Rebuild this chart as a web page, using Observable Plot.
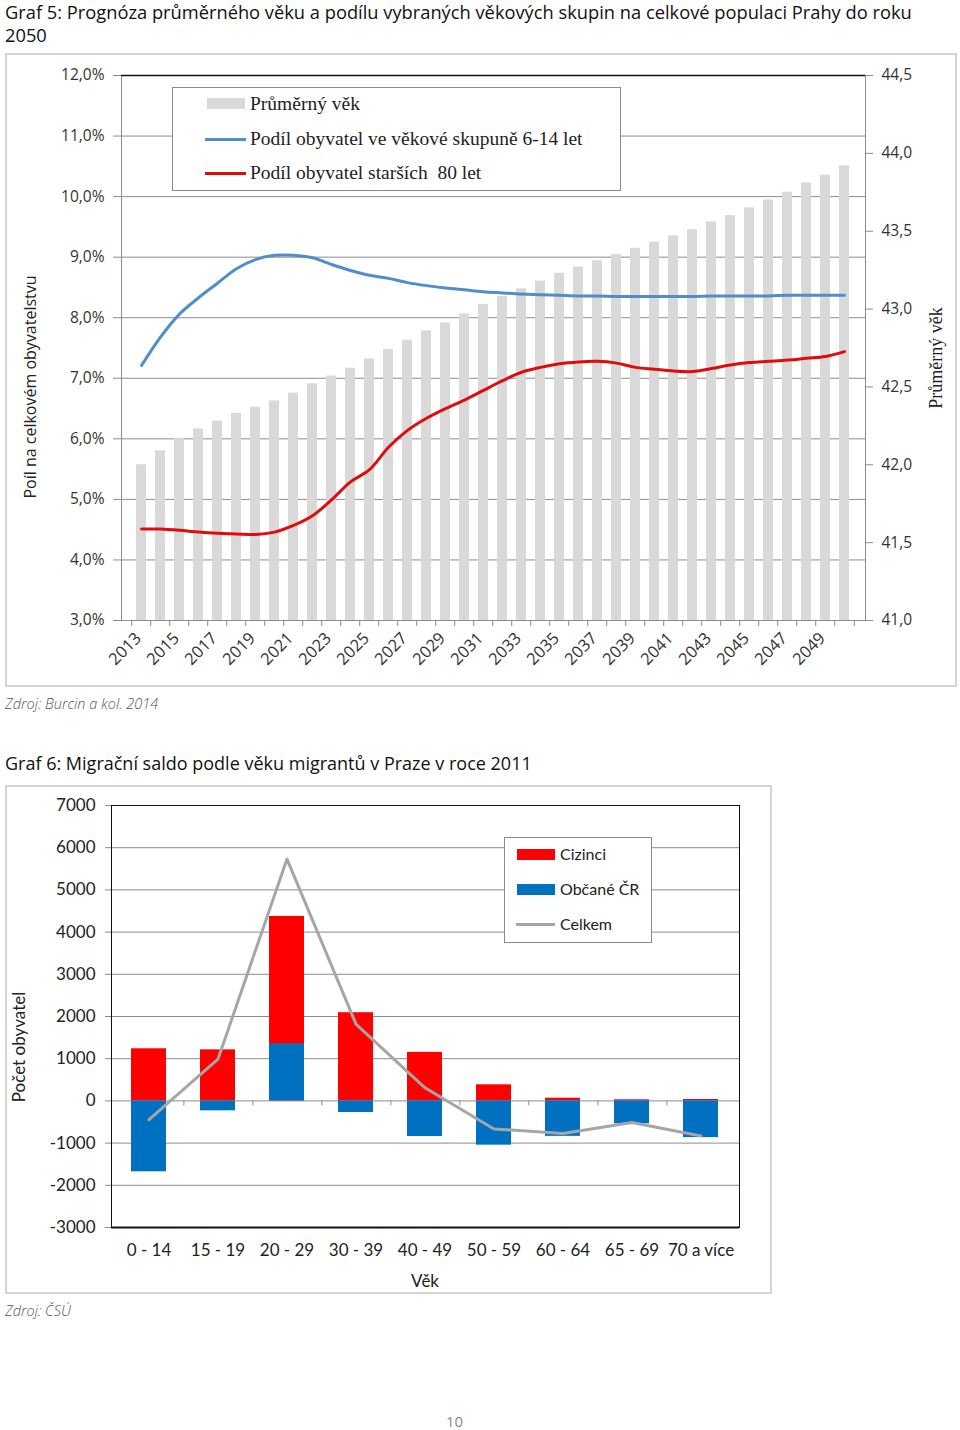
<!DOCTYPE html>
<html>
<head>
<meta charset="utf-8">
<script src="https://cdn.jsdelivr.net/npm/d3@7"></script>
<script src="https://cdn.jsdelivr.net/npm/@observablehq/plot@0.6"></script>
<style>
  html, body { margin: 0; padding: 0; background: #fff; }
  #page { position: relative; width: 960px; height: 1430px; overflow: hidden; font-family: "Open Sans", sans-serif; color: #222; }
  .abs { position: absolute; white-space: nowrap; }
  .frame { position: absolute; box-sizing: border-box; border: 2px solid #d4d4d4; background: #fff; }
  .title { font-family: "Open Sans", sans-serif; font-size: 18px; color: #111; line-height: 23px; }
  .src { font-family: "Open Sans", sans-serif; font-style: italic; font-weight: 300; font-size: 14.5px; color: #555; }
  .legbox { position: absolute; box-sizing: border-box; background: #fff; border: 1px solid #8a8a8a; }
  .rot { transform: translate(-50%, -50%) rotate(-90deg); }
</style>
</head>
<body>
<div id="page"></div>
<script>
// ---------- Graf 5 data ----------
const years = [2013,2014,2015,2016,2017,2018,2019,2020,2021,2022,2023,2024,2025,2026,2027,2028,2029,2030,2031,2032,2033,2034,2035,2036,2037,2038,2039,2040,2041,2042,2043,2044,2045,2046,2047,2048,2049,2050];
const avgAge = [42.00,42.09,42.17,42.23,42.28,42.33,42.37,42.41,42.46,42.52,42.57,42.62,42.68,42.74,42.80,42.86,42.91,42.97,43.03,43.08,43.13,43.18,43.23,43.27,43.31,43.35,43.39,43.43,43.47,43.51,43.56,43.60,43.65,43.70,43.75,43.81,43.86,43.92];
const share6to14 = [7.21,7.68,8.06,8.33,8.57,8.81,8.96,9.03,9.03,8.99,8.88,8.78,8.70,8.65,8.58,8.53,8.49,8.46,8.43,8.41,8.39,8.38,8.37,8.36,8.36,8.35,8.35,8.35,8.35,8.35,8.36,8.36,8.36,8.36,8.37,8.37,8.37,8.37];
const share80 = [4.51,4.51,4.49,4.46,4.44,4.43,4.42,4.46,4.57,4.73,4.99,5.29,5.49,5.86,6.14,6.34,6.50,6.64,6.80,6.96,7.10,7.18,7.24,7.27,7.28,7.25,7.18,7.15,7.12,7.11,7.16,7.22,7.26,7.28,7.30,7.33,7.36,7.44];
const leftTicks = [3,4,5,6,7,8,9,10,11,12];
const rightTicks = [41.0,41.5,42.0,42.5,43.0,43.5,44.0,44.5];
const labelYears = [2013,2015,2017,2019,2021,2023,2025,2027,2029,2031,2033,2035,2037,2039,2041,2043,2045,2047,2049];

// ---------- Graf 6 data ----------
const ageGroups = ["0 - 14","15 - 19","20 - 29","30 - 39","40 - 49","50 - 59","60 - 64","65 - 69","70 a více"];
const cizinci = [1235,1210,4370,2090,1150,381,64,26,33];
const obcane = [-1680,-235,1353,-275,-845,-1049,-840,-543,-870];
const celkem = [-445,990,5730,1820,310,-665,-770,-510,-830];
const countTicks = [-3000,-2000,-1000,0,1000,2000,3000,4000,5000,6000,7000];

// ---------- helpers ----------
const page = document.getElementById("page");
function el(tag, cls, css, html) {
  const e = document.createElement(tag);
  if (cls) e.className = cls;
  Object.assign(e.style, css || {});
  if (html != null) e.innerHTML = html;
  page.appendChild(e);
  return e;
}
const comma = (v, d) => v.toFixed(d).replace(".", ",");

// map age (right axis 41..44.5) onto percent axis (3..12)
const ageToPct = a => 3 + (a - 41) / 3.5 * 9;
const pctToAge = p => 41 + (p - 3) / 9 * 3.5;

// ---------- Graf 5 ----------
el("div", "abs title", {left: "5px", top: "0px", fontSize: "18.3px"}, "Graf 5: Prognóza průměrného věku a podílu vybraných věkových skupin na celkové populaci Prahy do roku<br>2050");
el("div", "frame", {left: "5px", top: "53px", width: "952px", height: "634px"});

const t1 = years.map((y, i) => ({year: y, age: avgAge[i], p614: share6to14[i], p80: share80[i]}));
const step1 = 744 / years.length;

const chart1 = Plot.plot({
  width: 952, height: 633,
  marginLeft: 116, marginRight: 92, marginTop: 22, marginBottom: 66,
  style: {fontFamily: "'Open Sans', sans-serif", fontSize: "15.5px", color: "#333", background: "transparent"},
  x: {type: "band", domain: years, paddingInner: 0.46, paddingOuter: 0.23, axis: null},
  y: {domain: [3, 12], axis: null},
  marks: [
    Plot.ruleY(leftTicks.filter(v => v > 3 && v < 12), {stroke: "#8c8c8c", strokeWidth: 1}),
    Plot.barY(t1, {x: "year", y1: 3, y2: d => ageToPct(d.age), fill: "#d9d9d9"}),
    Plot.line(t1, {x: "year", y: "p614", stroke: "#4f8dcb", strokeWidth: 3, curve: "catmull-rom"}),
    Plot.line(t1, {x: "year", y: "p80", stroke: "#e00c0c", strokeWidth: 3, curve: "catmull-rom"}),
    Plot.frame({stroke: "#8c8c8c", strokeWidth: 1}),
    Plot.ruleY([12], {stroke: "#111", strokeWidth: 1.5}),
    Plot.ruleX(years, {x: d => d, y1: 3, y2: 3, insetBottom: -6, dx: -step1 / 2, stroke: "#8c8c8c"}),
    Plot.ruleX([2050], {x: d => d, y1: 3, y2: 3, insetBottom: -6, dx: step1 / 2, stroke: "#8c8c8c"}),
    Plot.axisY(leftTicks, {anchor: "left", tickSize: 8, tickPadding: 9, stroke: "#8c8c8c", tickFormat: d => comma(d, 1) + "%", label: null, fill: "#333"}),
    Plot.axisY(rightTicks.map(ageToPct), {anchor: "right", tickSize: 7, tickPadding: 9, stroke: "#8c8c8c", tickFormat: d => comma(pctToAge(d), 1), label: null, fill: "#333"}),
    Plot.axisX(labelYears, {anchor: "bottom", tickSize: 0, tickPadding: 15, tickRotate: -45, tickFormat: d => String(d), label: null, fill: "#333", fontSize: 16.5, dx: -3})
  ]
});
chart1.style.position = "absolute";
chart1.style.left = "5px";
chart1.style.top = "53px";
page.appendChild(chart1);

el("div", "abs rot", {left: "30px", top: "387px", fontFamily: "'Open Sans', sans-serif", fontSize: "16px", color: "#222"}, "Poíl na celkovém obyvatelstvu");
el("div", "abs rot", {left: "936px", top: "358px", fontFamily: "'Liberation Serif', serif", fontSize: "18px", color: "#222"}, "Průměrný věk");

// legend 1
el("div", "legbox", {left: "172px", top: "87px", width: "449px", height: "104px"});
const lg1 = {fontFamily: "'Liberation Serif', serif", fontSize: "19.5px", color: "#222"};
el("div", "abs", {left: "207px", top: "98px", width: "38px", height: "11px", background: "#d9d9d9"});
el("div", "abs", Object.assign({left: "250px", top: "93px"}, lg1), "Průměrný věk");
el("div", "abs", {left: "205px", top: "137.5px", width: "41px", height: "3px", background: "#4f8dcb"});
el("div", "abs", Object.assign({left: "250px", top: "128px"}, lg1), "Podíl obyvatel ve věkové skupuně 6-14 let");
el("div", "abs", {left: "205px", top: "171.5px", width: "41px", height: "3px", background: "#e00c0c"});
el("div", "abs", Object.assign({left: "250px", top: "162px"}, lg1), "Podíl obyvatel starších&nbsp; 80 let");

el("div", "abs src", {left: "5px", top: "694px"}, "Zdroj: Burcin a kol. 2014");

// ---------- Graf 6 ----------
el("div", "abs title", {left: "5px", top: "752px"}, "Graf 6: Migrační saldo podle věku migrantů v Praze v roce 2011");
el("div", "frame", {left: "5px", top: "785px", width: "767px", height: "509px"});

const t2 = ageGroups.map((g, i) => ({group: g, cizinci: cizinci[i], obcane: obcane[i], celkem: celkem[i]}));
const step2 = 628 / ageGroups.length;

const chart2 = Plot.plot({
  width: 766, height: 508,
  marginLeft: 106, marginRight: 32, marginTop: 20, marginBottom: 66,
  style: {fontFamily: "Lato, sans-serif", fontSize: "17px", color: "#222", background: "transparent"},
  x: {type: "band", domain: ageGroups, paddingInner: 0.49, paddingOuter: 0.245, axis: null},
  y: {domain: [-3000, 7000], axis: null},
  marks: [
    Plot.ruleY(countTicks.filter(v => v > -3000 && v < 7000), {stroke: "#8c8c8c", strokeWidth: 1}),
    Plot.ruleX(ageGroups.slice(0, -1), {x: d => d, y1: 0, y2: 0, insetBottom: -5, dx: step2 / 2, stroke: "#8c8c8c"}),
    Plot.barY(t2, {x: "group", y1: 0, y2: "cizinci", fill: "#ff0000"}),
    Plot.barY(t2, {x: "group", y1: 0, y2: "obcane", fill: "#0070c0"}),
    Plot.line(t2, {x: "group", y: "celkem", stroke: "#a6a6a6", strokeWidth: 3}),
    Plot.frame({stroke: "#111", strokeWidth: 1}),
    Plot.ruleY([-3000], {stroke: "#111", strokeWidth: 2}),
    Plot.axisY(countTicks, {anchor: "left", tickSize: 6, tickPadding: 10, stroke: "#8c8c8c", tickFormat: d => String(d), label: null, fill: "#222"}),
    Plot.axisX(ageGroups, {anchor: "bottom", tickSize: 0, tickPadding: 16, label: null, fill: "#222"})
  ]
});
chart2.style.position = "absolute";
chart2.style.left = "5px";
chart2.style.top = "785px";
page.appendChild(chart2);

el("div", "abs rot", {left: "18px", top: "1047px", fontFamily: "Lato, sans-serif", fontSize: "17px", color: "#222"}, "Počet obyvatel");
el("div", "abs", {left: "425px", top: "1280px", transform: "translate(-50%, -50%)", fontFamily: "Lato, sans-serif", fontSize: "17px", color: "#222"}, "Věk");

// legend 2
el("div", "legbox", {left: "504px", top: "837px", width: "148px", height: "106px"});
const lg2 = {fontFamily: "Lato, sans-serif", fontSize: "16px", color: "#222"};
el("div", "abs", {left: "517px", top: "849px", width: "38px", height: "11px", background: "#ff0000"});
el("div", "abs", Object.assign({left: "560px", top: "844px"}, lg2), "Cizinci");
el("div", "abs", {left: "517px", top: "884px", width: "38px", height: "11px", background: "#0070c0"});
el("div", "abs", Object.assign({left: "560px", top: "879px"}, lg2), "Občané ČR");
el("div", "abs", {left: "516px", top: "922.5px", width: "39px", height: "3px", background: "#a6a6a6"});
el("div", "abs", Object.assign({left: "560px", top: "914px"}, lg2), "Celkem");

el("div", "abs src", {left: "5px", top: "1301px"}, "Zdroj: ČSÚ");
el("div", "abs", {left: "446px", top: "1413px", fontSize: "15px", lineHeight: "17px", color: "#888"}, "10");
</script>
</body>
</html>
